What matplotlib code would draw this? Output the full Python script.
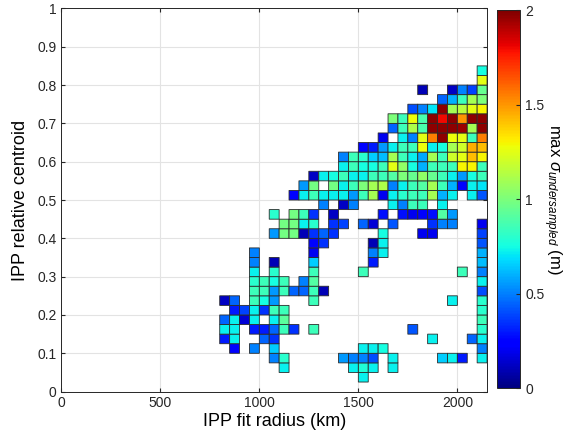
import numpy as np
import matplotlib
matplotlib.use("Agg")
import matplotlib.pyplot as plt

plt.rcParams['font.family'] = ['Liberation Sans', 'DejaVu Sans']
plt.rcParams['mathtext.fontset'] = 'custom'
plt.rcParams['mathtext.rm'] = 'Liberation Sans'
plt.rcParams['mathtext.it'] = 'Liberation Sans:italic'

n = np.nan
E = [np.nan]

# bin edges: fit radius (km) and relative centroid
radius_edges = [800, 850, 900, 950, 1000, 1050, 1100, 1150, 1200, 1250, 1300, 1350, 1400, 1450,
                1500, 1550, 1600, 1650, 1700, 1750, 1800, 1850, 1900, 1950, 2000, 2050, 2100, 2150]
centroid_edges = [0.025, 0.05, 0.075, 0.1, 0.125, 0.15, 0.175, 0.2, 0.225, 0.25, 0.275, 0.3,
                  0.325, 0.35, 0.375, 0.4, 0.425, 0.45, 0.475, 0.5, 0.525, 0.55, 0.575, 0.6,
                  0.625, 0.65, 0.675, 0.7, 0.725, 0.75, 0.775, 0.8, 0.825, 0.85]

# max sigma undersampled (m), rows from top (0.825-0.85) down to bottom (0.025-0.05)
sigma_rows = [
    E*26 + [.75],
    E*26 + [1.25],
    E*20 + [.10, n, n, .12, .50, .38, .95],
    E*22 + [.45, .60, .85, 1.1, 1.0],
    E*19 + [.40, .50, .70, 1.97, 1.10, 1.15, 1.25, 1.30],
    E*17 + [1.0, .85, 1.28, .88, 1.97, 1.8, 1.97, 1.5, 1.97, 1.97],
    E*17 + [.45, .85, 1.12, .88, 1.97, 1.97, 1.97, 1.95, 1.1, 1.97],
    E*16 + [.20, n, .72, .50, 1.25, 1.55, 1.97, 1.28, 1.25, .85, 1.55],
    E*14 + [.22, .30, .55, .72, .85, .85, 1.28, .72, .75, 1.1, 1.2, 1.45, 1.42],
    E*12 + [.50, .85, .80, .65, .62, 1.1, .85, .72, .58, 1.1, .85, 1.2, 1.25, 1.42, 1.3],
    E*12 + [.72, .85, .75, .75, .85, 1.25, 1.05, .75, .60, .85, .85, .85, 1.3, 1.3, .85],
    E*9 + [.12, .72, .75, .85, .72, .72, .85, .85, .90, 1.0, .95, 1.05, .95, .85, .72, .55, .75, .85],
    E*8 + [.55, .98, n, .98, .72, .85, 1.0, 1.1, 1.12, .50, .72, .85, .90, 1.1, .85, .60, .25, .72, .70],
    E*7 + [.25, .72, .85, .72, .72, .72, .55, .85, 1.1, .20, .72, .80, .85, .85, 1.1, .60, .72, n, .72, .42],
    E*10 + [.50, n, .12, .50, n, n, n, .72, .50, .85, .85, n, .72, n, n, n, n],
    E*5 + [.80, n, .98, .85, .35, n, .12, n, n, n, n, .28, n, .28, .20, .22, .28, .90, .55, n, n, n],
    E*6 + [.98, .98, .72, .80, n, .35, .38, n, .45, .15, n, .42, n, n, n, .35, .50, .50, n, n, .20],
    E*5 + [.55, .98, .98, .10, .35, .45, .35, n, n, n, n, .75, n, n, n, .20, .20, n, n, n, n, .38],
    E*9 + [.25, .35, n, n, n, n, .10, .72] + E*9 + [.42],
    E*3 + [.50] + E*5 + [.20] + E*5 + [.50, .72] + E*9 + [.60],
    E*3 + [.50, n, .10, n, n, n, .65] + E*5 + [.30] + E*10 + [.62],
    E*3 + [.72, n, .80, n, n, n, .85, n, n, n, n, .85] + E*9 + [.85, n, .50],
    E*3 + [.80, .85, .75, .85, n, .50, .90] + E*16 + [.72],
    E*3 + [.85, .85, .55, .85, .45, .45, .85, .10] + E*15 + [.40],
    [.12, .45, n, .85, .75, .55, n, n, n, .85] + E*13 + [.72, n, n, .80],
    [n, .30, .38, .72, .35, .85, .85] + E*19 + [.80],
    [.45, .72, .15, .72, n, .72, .92] + E*19 + [.85],
    [.72, .72, n, .30, .30, .45, .85, .35, n, .85] + E*9 + [.42] + E*6 + [.80],
    [.30, .72, n, n, .45, .35] + E*15 + [.72, n, n, n, .45, .72],
    [n, .25, n, .50, n, .65] + E*8 + [.72, .72, .75] + E*9 + [.50],
    E*5 + [.50, .80] + E*5 + [.55, .50, .50, .40, n, .72] + E*4 + [.65, .72, .30, n, .72],
    E*6 + [.72] + E*6 + [.72, .78, .72, n, .72] + E*9,
    E*14 + [.72] + E*12,
]

sigma = np.ma.masked_invalid(np.array(sigma_rows[::-1]))

fig = plt.figure(figsize=(5.73, 4.43), dpi=100)
ax = fig.add_axes([0.107, 0.116, 0.743, 0.865])

mesh = ax.pcolor(radius_edges, centroid_edges, sigma, cmap='jet', vmin=0, vmax=2,
                 edgecolors='#2a2a2a', linewidth=0.6)

ax.set_xlim(0, 2150)
ax.set_ylim(0, 1)
ax.set_xticks([0, 500, 1000, 1500, 2000])
ax.set_yticks(np.round(np.arange(0, 1.01, 0.1), 1))
ax.set_yticklabels(['0', '0.1', '0.2', '0.3', '0.4', '0.5', '0.6', '0.7', '0.8', '0.9', '1'])
ax.grid(True, color='#e3e3e3', linewidth=0.8)
ax.set_axisbelow(True)
ax.tick_params(direction='in', length=3, labelsize=10, top=True, right=True,
               colors='#262626')
for s in ax.spines.values():
    s.set_color('#262626')
    s.set_linewidth(0.7)
ax.set_xlabel('IPP fit radius (km)', fontsize=13, labelpad=2)
ax.set_ylabel('IPP relative centroid', fontsize=13, labelpad=6)

cax = fig.add_axes([0.868, 0.124, 0.040, 0.853])
cb = fig.colorbar(mesh, cax=cax)
cb.set_ticks([0, 0.5, 1, 1.5, 2])
cb.set_ticklabels(['0', '0.5', '1', '1.5', '2'])
cb.ax.tick_params(direction='in', length=3, labelsize=10, colors='#262626')
cb.outline.set_edgecolor('#262626')
cb.outline.set_linewidth(0.7)
cb.set_label(r'max $\sigma_{undersampled}$ (m)', rotation=270, fontsize=12, labelpad=14)

fig.savefig('out.png', dpi=100)
